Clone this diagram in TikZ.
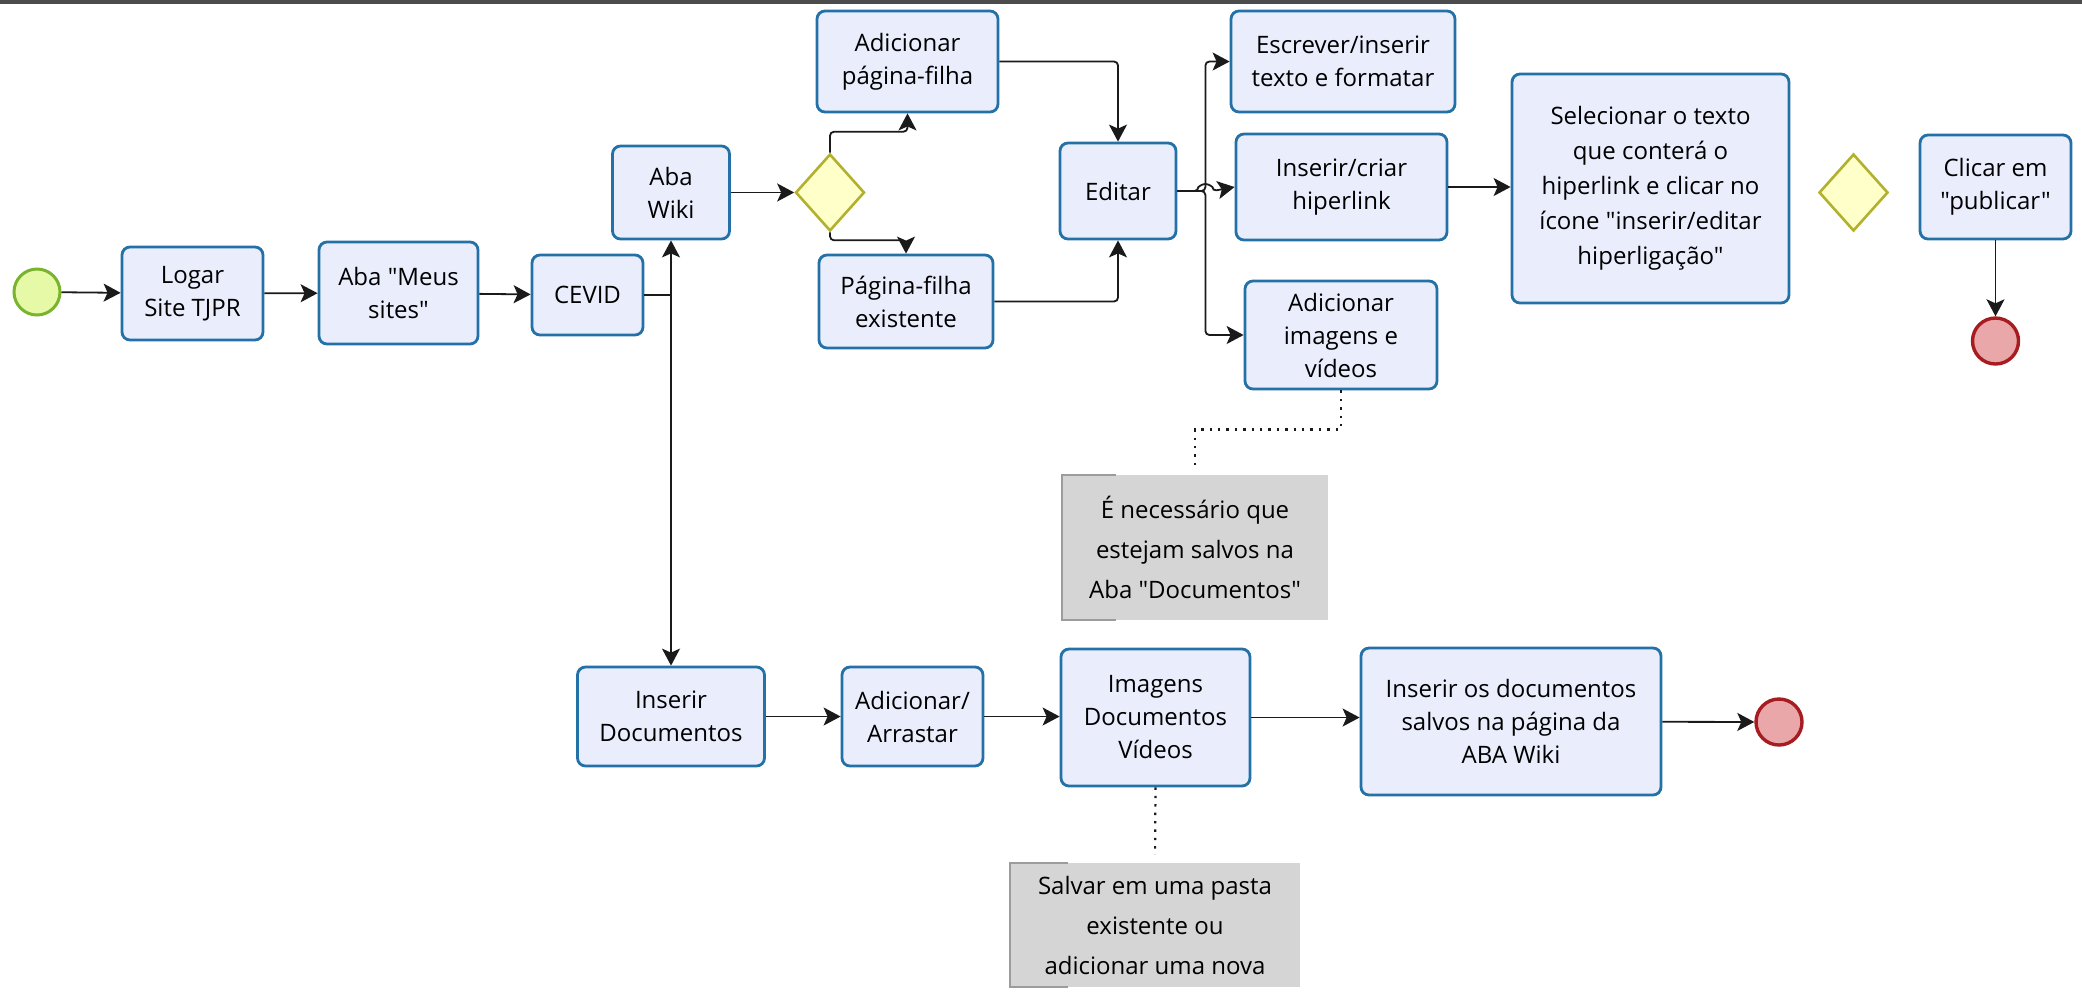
\documentclass[tikz,border=0pt]{standalone}
\usepackage{fontspec}
\setmainfont{Open Sans}[Ligatures=TeXOff]
\usetikzlibrary{positioning,arrows.meta,shapes.geometric}
\definecolor{taskline}{HTML}{2471A8}
\definecolor{taskfill}{HTML}{E9EDFC}
\definecolor{startline}{HTML}{7AB32E}
\definecolor{startfill}{HTML}{E6F9A6}
\definecolor{endline}{HTML}{A61C20}
\definecolor{endfill}{HTML}{EAA7AA}
\definecolor{gateline}{HTML}{B2B12E}
\definecolor{gatefill}{HTML}{FFFFCA}
\definecolor{notefill}{HTML}{D5D5D5}
\definecolor{notebar}{HTML}{9C9C9C}
\definecolor{wire}{HTML}{1A1A1A}
\tikzset{
  task/.style={draw=taskline,fill=taskfill,line width=1.4pt,rounded corners=4pt,inner sep=2pt,align=center,font=\fontsize{12}{16.5}\selectfont},
  gate/.style={diamond,draw=gateline,fill=gatefill,line width=1.3pt,minimum width=34.5pt,minimum height=38.5pt,inner sep=0pt},
  startev/.style={circle,draw=startline,fill=startfill,line width=1.5pt,minimum size=23pt,inner sep=0pt},
  endev/.style={circle,draw=endline,fill=endfill,line width=1.7pt,minimum size=23pt,inner sep=0pt},
  note/.style={fill=notefill,inner sep=2pt,align=center,font=\fontsize{12}{20}\selectfont},
  notebr/.style={draw=notebar,line width=1pt},
  line/.style={draw=wire,line width=0.9pt,rounded corners=2pt},
  flow/.style={line,-{Stealth[length=8.5pt,width=9pt,inset=2pt]}},
  assoc/.style={draw=wire,line width=1.1pt,dash pattern=on 1.2pt off 3pt}}

\begin{document}
\begin{tikzpicture}[x=0.5pt,y=-0.5pt]
\useasboundingbox (0,0) rectangle (2082,993);
\draw[line width=1.6pt,draw=black!70] (0,2) -- (2082,2);
% upper row
\node[startev] (inicio) at (37,292) {};
\node[task,minimum width=70.5pt,minimum height=46.5pt] (logar) at (192.5,293.5) {Logar\\Site TJPR};
\node[task,minimum width=79.5pt,minimum height=51pt] (meus) at (398.5,293) {Aba "Meus\\sites"};
\node[task,minimum width=55.5pt,minimum height=40pt] (cevid) at (587.5,295) {CEVID};
\node[task,minimum width=58.5pt,minimum height=46.5pt] (wiki) at (671,192.5) {Aba\\Wiki};
\node[gate] (escolha) at (830,192.5) {};
\node[task,minimum width=90.5pt,minimum height=50.5pt] (novafilha) at (907.5,61.5) {Adicionar\\página-filha};
\node[task,minimum width=87pt,minimum height=46.5pt] (filha) at (906,301.5) {Página-filha\\existente};
\node[task,minimum width=58pt,minimum height=48pt] (editar) at (1118,191) {Editar};
\node[task,minimum width=112pt,minimum height=50.5pt] (escrever) at (1343,61.5) {Escrever/inserir\\texto e formatar};
\node[task,minimum width=105.5pt,minimum height=53pt] (hiperlink) at (1341.5,187) {Inserir/criar\\hiperlink};
\node[task,minimum width=96pt,minimum height=54pt] (midia) at (1341,335) {Adicionar\\imagens e\\vídeos};
\node[task,minimum width=138.5pt,minimum height=114.5pt,font=\fontsize{12}{17.5}\selectfont] (selecionar) at (1650.5,188.5) {Selecionar o texto\\que conterá o\\hiperlink e clicar no\\ícone "inserir/editar\\hiperligação"};
\node[gate] (escolha2) at (1853.5,192.5) {};
\node[task,minimum width=75.5pt,minimum height=52pt] (publicar) at (1995.5,187) {Clicar em\\"publicar"};
\node[endev] (fim1) at (1995.5,341) {};
\node[note,minimum width=133pt,minimum height=72.5pt] (aviso) at (1195,547.5) {É necessário que\\estejam salvos na\\Aba "Documentos"};
% lower row
\node[task,minimum width=93.5pt,minimum height=49.5pt] (insdocs) at (671,716.5) {Inserir\\Documentos};
\node[task,minimum width=70.5pt,minimum height=49.5pt] (arrastar) at (912.5,716.5) {Adicionar/\\Arrastar};
\node[task,minimum width=94.5pt,minimum height=68.5pt] (tipos) at (1155.5,717.5) {Imagens\\Documentos\\Vídeos};
\node[task,minimum width=150pt,minimum height=73.5pt] (inserirfim) at (1511,721.5) {Inserir os documentos\\salvos na página da\\ABA Wiki};
\node[endev] (fim2) at (1779,722) {};
\node[note,minimum width=145pt,minimum height=62pt] (pasta) at (1155,925) {Salvar em uma pasta\\existente ou\\adicionar uma nova};
\draw[notebr] ([xshift=27pt]aviso.north west) -- (aviso.north west) -- (aviso.south west) -- ([xshift=27pt]aviso.south west);
\draw[notebr] ([xshift=29pt]pasta.north west) -- (pasta.north west) -- (pasta.south west) -- ([xshift=29pt]pasta.south west);
% connectors
\coordinate (juncao) at (cevid.east -| wiki.south);
\coordinate (ramo) at ([xshift=14pt]editar.east);
\draw[flow] (inicio) -- (logar);
\draw[flow] (logar) -- (meus);
\draw[flow] (meus) -- (cevid);
\draw[line] (cevid.east) -- (juncao);
\draw[flow] (juncao) -- (wiki.south);
\draw[flow] (juncao) -- (insdocs.north);
\draw[flow] (wiki) -- (escolha);
\draw[flow] (escolha.north) -- ++(0,-21) -| (novafilha.south);
\draw[flow] (escolha.south) -- ++(0,8) -| (filha.north);
\draw[flow] (novafilha.east) -| (editar.north);
\draw[flow] (filha.east) -| (editar.south);
\draw[flow] (editar.east) -- (ramo) |- (escrever.west);
\draw[flow] (editar.east) -- (ramo) |- (midia.west);
\draw[flow] (editar.east) -- ([xshift=-3.5pt]ramo) arc (180:0:3.5pt) -- (hiperlink.west);
\draw[flow] (hiperlink.east) -- (hiperlink.east -| selecionar.west);
\draw[flow] (publicar) -- (fim1);
\draw[flow] (insdocs) -- (arrastar);
\draw[flow] (arrastar.east) -- (arrastar.east -| tipos.west);
\draw[flow] (tipos.east) -- (tipos.east -| inserirfim.west);
\draw[flow] (inserirfim) -- (fim2);
\draw[assoc,shorten >=4pt] (midia.south) -- ++(0,39) -| (aviso.north);
\draw[assoc,shorten >=4pt] (tipos.south) -- (pasta.north);
\end{tikzpicture}
\end{document}
